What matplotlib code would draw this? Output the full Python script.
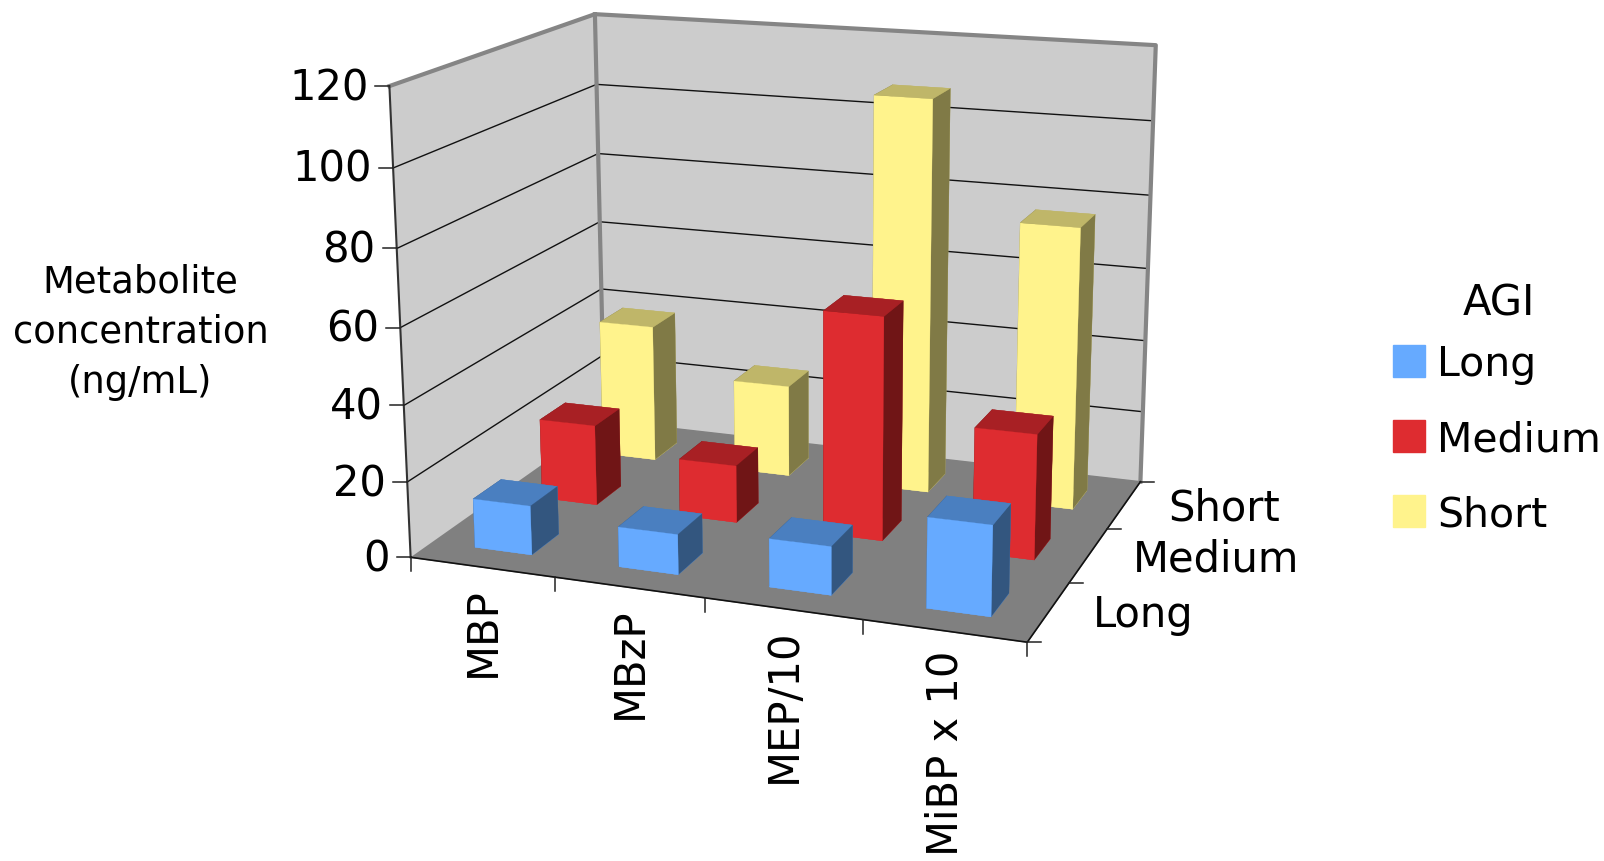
import matplotlib
matplotlib.use("Agg")
import matplotlib.pyplot as plt
import numpy as np
from matplotlib.lines import Line2D
from matplotlib.patches import Patch
from mpl_toolkits.mplot3d import proj3d

categories = ["MBP", "MBzP", "MEP/10", "MiBP x 10"]
agi_groups = ["Long", "Medium", "Short"]
long_values = [13.0, 10.5, 12.5, 23.0]
medium_values = [22.0, 15.5, 59.5, 33.0]
short_values = [38.5, 25.5, 107.5, 76.5]
z_ticks = [0, 20, 40, 60, 80, 100, 120]

# front, top, side shades of each series
blue = ("#66aaff", "#4a7fc0", "#33567f")
red = ("#de2c30", "#a82024", "#701516")
yellow = ("#fff38c", "#bfb669", "#807a46")
WALL = "#cccccc"
FLOOR = "#808080"
EDGE = "#858585"
TEXT_PT = 30

fig = plt.figure(figsize=(16.04, 8.62), dpi=100)
L = 881.45
ax = fig.add_axes([336.9 / 1604, 111.5 / 862, L / 1604, L / 862], projection="3d", computed_zorder=False)
ax.patch.set_visible(False)


def draw_bars(values, row, shades, order):
    for col, value in enumerate(values):
        front, top, side = shades
        # bar3d face order: bottom, top, -y, +y, -x, +x
        faces = [front, top, front, top, side, side]
        ax.bar3d(col + 0.3, row + 0.3, 0, 0.4, 0.4, value, color=faces, edgecolor=faces,
                 linewidth=0.2, shade=False, zorder=order + col)


draw_bars(short_values, 2, yellow, 10)
draw_bars(medium_values, 1, red, 20)
draw_bars(long_values, 0, blue, 30)

ax.set_xlim(0, 4)
ax.set_ylim(0, 3)
ax.set_zlim(0, 120)
ax.view_init(15.176, -69.707, 0.18)
ax.set_proj_type("persp", focal_length=0.531)
ax.set_box_aspect((4, 2.956, 3.003))
ax.set_xticks([])
ax.set_yticks([])
ax.set_zticks([])
ax.grid(False)

for axis, colour in [(ax.xaxis, WALL), (ax.yaxis, WALL), (ax.zaxis, FLOOR)]:
    axis.set_pane_color(colour)
    axis.pane.set_edgecolor(colour)
    axis.line.set_color((0, 0, 0, 0))

for z in z_ticks[1:-1]:
    ax.plot([0, 0, 4], [0, 3, 3], [z, z, z], color="#111111", lw=1.0, zorder=2)
ax.plot([0, 0, 4, 4], [0, 3, 3, 3], [120, 120, 120, 0], color=EDGE, lw=3, zorder=3)
ax.plot([0, 0], [3, 3], [0, 120], color=EDGE, lw=3, zorder=3)
ax.plot([0, 0], [0, 0], [0, 120], color="#333333", lw=1.5, zorder=4)
ax.plot([0, 4, 4], [0, 0, 3], [0, 0, 0], color="#111111", lw=1.2, zorder=4)

ax.apply_aspect()
M = ax.get_proj()


def to_pixels(x, y, z):
    u, v, _ = proj3d.proj_transform(x, y, z, M)
    return ax.transData.transform((u, v)), (u, v)


def tick(x, y, z, dx, dy):
    (px, py), _ = to_pixels(x, y, z)
    fig.add_artist(Line2D([px, px + dx], [py, py + dy], transform=None, color="#222222", lw=1.1))


def label(text, x, y, z, dx, dy, **kw):
    _, xy = to_pixels(x, y, z)
    ax.annotate(text, xy=xy, xytext=(dx, dy), textcoords="offset pixels", fontsize=TEXT_PT,
                annotation_clip=False, **kw)


for z in z_ticks:
    tick(0, 0, z, -14, 0)
    label(str(z), 0, 0, z, -21, -1, ha="right", va="center")
for x in range(5):
    tick(x, 0, 0, 0, -14)
for y in range(4):
    tick(4, y, 0, 14, 0)
for i, name in enumerate(categories):
    label(name, i + 0.5, 0, 0, 1, -19, ha="center", va="top", rotation=90)
for i, name in enumerate(agi_groups):
    label(name, 4, i + 0.5, 0, 44, -3, ha="left", va="center")

fig.text(140.5 / 1604, 1 - 332 / 862, "Metabolite\nconcentration\n(ng/mL)", ha="center", va="center",
         fontsize=26.6, linespacing=1.45)

fig.text(1499 / 1604, 1 - 303 / 862, "AGI", ha="center", va="center", fontsize=TEXT_PT)
handles = [Patch(color=blue[0]), Patch(color=red[0]), Patch(color=yellow[0])]
fig.legend(handles, agi_groups, loc="upper left", bbox_to_anchor=(1393 / 1604, 1 - 345 / 862),
           frameon=False, fontsize=29.5, handlelength=0.79, handleheight=0.81,
           handletextpad=0.28, labelspacing=0.86, borderpad=0, borderaxespad=0)

fig.savefig("out.png", dpi=100)
